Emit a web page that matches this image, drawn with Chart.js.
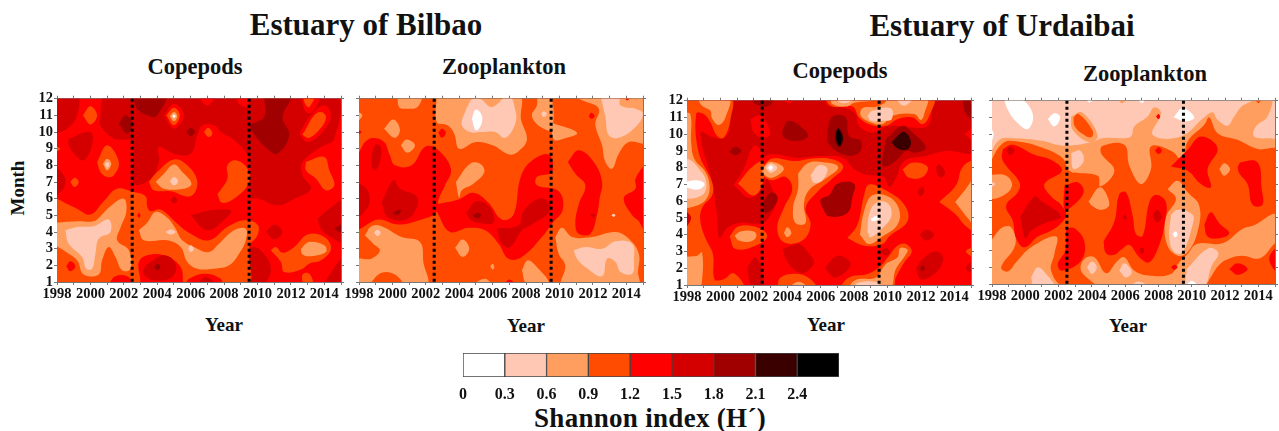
<!DOCTYPE html>
<html>
<head>
    <title>Shannon index</title>
    <script src="https://cdn.jsdelivr.net/npm/chart.js"></script>
    <style>
        body { margin: 0; background: #fff; width: 1279px; height: 431px; overflow: hidden; position: relative; font-family: "Liberation Serif", serif; font-weight: bold; color: #111; }
        canvas { position: absolute; }
        .t { position: absolute; white-space: nowrap; transform: translate(-50%, -50%); }
        .main { font-size: 31px; }
        .sub { font-size: 22.5px; }
        .ax { font-size: 19px; }
    </style>
</head>
<body>
    <div class="t main" style="left:366px;top:25px">Estuary of Bilbao</div>
    <div class="t main" style="left:1002px;top:26px">Estuary of Urdaibai</div>
    <div class="t sub" style="left:195px;top:67px">Copepods</div>
    <div class="t sub" style="left:504px;top:67px">Zooplankton</div>
    <div class="t sub" style="left:840px;top:71px">Copepods</div>
    <div class="t sub" style="left:1145px;top:74px">Zooplankton</div>
    <div class="t ax" style="left:18px;top:188px;transform:translate(-50%,-50%) rotate(-90deg)">Month</div>
    <div class="t ax" style="left:224px;top:325px">Year</div>
    <div class="t ax" style="left:526px;top:326px">Year</div>
    <div class="t ax" style="left:826px;top:325px">Year</div>
    <div class="t ax" style="left:1128px;top:326px">Year</div>
    <div class="t" style="left:650px;top:418px;font-size:27px;letter-spacing:0.3px">Shannon index (H´)</div>

    <canvas id="c1"></canvas>
    <canvas id="c2"></canvas>
    <canvas id="c3"></canvas>
    <canvas id="c4"></canvas>
    <canvas id="legendBar"></canvas>

    <script>
        const levelColors = ['#ffffff', '#ffc8b4', '#ff9e5e', '#ff4c00', '#ff0000', '#d40000', '#a00000', '#3a0000', '#000000'];
        const legendTicks = ['0', '0.3', '0.6', '0.9', '1.2', '1.5', '1.8', '2.1', '2.4', ''];
        const yearLabels = [1998, 2000, 2002, 2004, 2006, 2008, 2010, 2012, 2014];
        const periodBreaks = [2002.5, 2009.5];

        // contour rows: level index, then year,month pairs
        const bilbaoCopepods = [
            [4, 1980,30, 2030,30, 2030,-20, 1980,-20],
            [5, 1997.8,12.2, 1999.2,12.2, 1999.2,11, 1998.6,10.2, 1997.8,10],
            [5, 1998.7,9.6, 2000,10, 2000.1,9.2, 1999.6,8.3, 1999.1,8.6, 1998.7,9.2],
            [5, 2000.7,12.2, 2014.6,12.2, 2014.6,9.6, 2013.8,9.1, 2012.7,8.2, 2012.7,7.4, 2013.2,6.6, 2012.2,6, 2011.2,5.6, 2010.1,6, 2009.6,6.1, 2009.5,8.4, 2008.6,9.5, 2007.8,10, 2007.4,10.4, 2006.7,10.4, 2006.4,9.8, 2006,8.7, 2005,8.7, 2004.1,9.1, 2004.1,8.2, 2003.6,7.2, 2002.6,6.9, 2002.5,9.4, 2001.4,9.6, 2000.6,10.4, 2000.6,11],
            [4, 2004.4,11, 2005,11.7, 2005.6,11, 2005,10.2],
            [4, 2006.4,12.2, 2007.4,12.2, 2007,11.6],
            [4, 2008.7,12.2, 2009.4,12.2, 2009.4,11.5, 2008.9,11.7],
            [4, 2012.6,12.2, 2013.7,12.2, 2013.3,11.2, 2012.9,11.2],
            [3, 2012.7,12.2, 2013.4,12.2, 2013.1,11.5, 2012.9,11.6],
            [4, 2012.5,9.9, 2013.2,11, 2014,11.6, 2014.4,11, 2013.9,10, 2013,9.4],
            [6, 2002.6,12.2, 2004.5,12.2, 2004,11, 2003.7,10.9, 2002.8,11.4],
            [6, 2001.7,10.5, 2002.1,11, 2002.5,10.5, 2002.2,9.9],
            [6, 2005.75,10, 2006,10.25, 2006.25,10, 2006,9.75],
            [6, 2010.4,12.2, 2012,12.2, 2011.5,10.9, 2011.9,9.8, 2011.2,8.7, 2010.6,9, 2009.7,10, 2009.6,10.4, 2010.4,10.9],
            [5, 1997.8,8.1, 1998.4,7.4, 1998.5,7, 1998.3,6.5, 1997.8,6.2],
            [5, 2006,5, 2007.2,5.3, 2008.4,5.3, 2008.2,4.9, 2007,4.1],
            [5, 2010.5,4, 2011,4.45, 2011.5,4, 2011,3.55],
            [5, 2009.6,3.1, 2010.1,3, 2010.8,1.9, 2010.4,0.9, 2009.6,0.9],
            [5, 2004.8,5.9, 2005,6.15, 2005.2,5.9, 2005,5.7],
            [5, 2013.6,4.8, 2014.3,5.4, 2015.2,5.9, 2015.2,3.4, 2014.4,3.7, 2013.8,4.2],
            [5, 2015.2,2.7, 2014.5,1.7, 2014.1,0.9, 2015.2,0.9],
            [6, 2014.6,4.2, 2015.2,4.5, 2015.2,3.9],
            [3, 1997.8,6.1, 1999.2,5.4, 2000,5.05, 2000.8,5.85, 2001.6,6.6, 2002.6,6.4, 2003.3,6.15, 2003.4,5.55, 2003.6,5.25, 2004.2,5.35, 2005.2,4.5, 2006,3.9, 2007.1,3.5, 2008.2,4.3, 2009.2,4.7, 2010,4.45, 2010,3.8, 2009.5,3.1, 2009.5,0.8, 2008,0.8, 2007.8,1.2, 2006.9,1.5, 2005.9,1.2, 2005.6,0.8, 2005.4,1.9, 2004.4,2.6, 2003.4,2.6, 2002.9,2.2, 2002.8,0.8, 1997.8,0.8],
            [5, 2003.3,2, 2004.4,2.6, 2005.1,2.1, 2004.9,1.3, 2003.8,1.1, 2003.2,1.5],
            [6, 2003.8,1.9, 2004,2.1, 2004.2,1.9, 2004,1.7],
            [5, 2006.4,0.9, 2006.9,1.3, 2007.4,0.9],
            [4, 1998.55,1.95, 1998.8,2.25, 1999.1,1.95, 1998.8,1.65],
            [4, 2001.1,0.9, 2001.5,1.35, 2002.2,1.35, 2002.5,0.9],
            [4, 2002.8,5, 2002.9,5.15, 2003,5, 2002.9,4.85],
            [2, 1997.8,4.55, 1999.2,4.65, 2000.2,4.65, 2000.6,4.95, 2001.2,5.55, 2002,6, 2002.15,5.25, 2001.8,4.25, 2001.6,3.5, 2002.3,2.9, 2002.4,1.8, 2001.9,1.7, 2001.5,2.5, 2001.1,3.1, 2000.7,2.3, 2000.5,1.45, 1999.6,1.45, 1999.2,2.3, 1998.4,2.9, 1997.8,3.4],
            [1, 1998.5,4.1, 1999.2,4.3, 2000.2,4.35, 2001.1,4.75, 2001.2,4, 2000.5,3.6, 2000.3,2.7, 2000.1,1.8, 1999.75,1.8, 1999.5,2.5, 1998.7,3.3],
            [2, 2002.9,4.1, 2003.4,4.55, 2003.9,5.2, 2004.6,4.85, 2005.1,4.2, 2005.5,3.5, 2006.4,3, 2007.1,2.8, 2007.7,3.3, 2008.6,4.1, 2009.3,4.2, 2009.3,3.5, 2008.9,2.7, 2008.3,2, 2007.4,1.8, 2006.4,1.8, 2005.8,2.2, 2005.4,3.1, 2004.6,3.5, 2003.2,3.5],
            [1, 2004.5,4, 2004.8,4.15, 2005.1,4, 2004.8,3.85],
            [1, 2005.85,3, 2006,3.2, 2006.2,3, 2006,2.8],
            [3, 1999.55,11, 2000,11.55, 2000.4,11, 2000,10.45],
            [3, 1997.8,9.2, 1998.2,9, 1997.8,8.8],
            [3, 1998.8,7, 1999.05,7.25, 1999.3,7, 1999.05,6.7],
            [3, 2000.4,8.2, 2001,9.2, 2001.7,8.2, 2001.4,7.4, 2001,7.3, 2000.6,7.6],
            [2, 2000.75,8.1, 2001,8.4, 2001.25,8.1, 2001,7.7],
            [1, 2000.85,8.05, 2001,8.2, 2001.15,8.05, 2001,7.85],
            [3, 2004.55,11, 2005,11.45, 2005.35,11, 2005,10.4],
            [2, 2004.75,10.95, 2005,11.2, 2005.2,10.95, 2005,10.65],
            [0, 2004.9,10.95, 2005,11.05, 2005.1,10.95, 2005,10.85],
            [3, 2006.8,10, 2007.05,10.25, 2007.3,9.9, 2007.05,9.7],
            [3, 2003.5,7, 2004,7.6, 2005,8.35, 2005.8,8, 2006.4,7, 2006,6.15, 2004.8,6.45, 2003.8,6.5],
            [2, 2003.9,7, 2004.4,7.5, 2005,8.05, 2005.5,7.6, 2006.05,6.9, 2005.6,6.6, 2004.4,6.6],
            [1, 2004.75,7.05, 2005,7.3, 2005.25,7.05, 2005,6.8],
            [3, 2007.6,6.25, 2008.2,7.2, 2008.2,8, 2008.7,8.3, 2009.4,7.8, 2009.5,7, 2008.8,6.15, 2007.9,5.75],
            [3, 2012.8,10, 2013.4,11, 2013.8,11.2, 2014.1,10.9, 2013.8,10.25, 2013.1,9.65, 2012.7,9.85],
            [3, 2012.9,8.2, 2014,8.5, 2014.3,7.7, 2014.6,6.8, 2014.1,6.5, 2013.5,7.2, 2012.9,7.7],
            [3, 2010.8,2.9, 2011.1,3.1, 2011.5,2.75, 2012.2,3.1, 2013,3.85, 2014,3.7, 2014.4,3, 2013.8,2.3, 2013.1,2.1, 2012.6,1.75, 2011.6,1.6, 2011.4,2.2],
            [2, 2012.6,3, 2013.1,3.4, 2014,3.2, 2014.1,2.8, 2013.2,2.55, 2012.7,2.65],
            [3, 2012.7,0.9, 2012.7,1.45, 2013.1,1.5, 2013.3,0.9]
        ];

        const bilbaoZooplankton = [
            [3, 1980,30, 2030,30, 2030,-20, 1980,-20],
            [2, 2000.3,12.2, 2001.7,12.2, 2001.5,11.5, 2000.8,11.4, 2000.4,11.5],
            [2, 1997.8,11.3, 1998.2,11, 1997.8,10.6],
            [2, 1999.5,10.2, 2000.05,10.75, 2000.45,10.15, 2000.15,9.65],
            [2, 2000.5,9.2, 2000.85,9.55, 2001.35,9.2, 2000.9,8.75],
            [2, 2002.65,12.2, 2007.55,12.2, 2007.7,10.75, 2008.05,9.55, 2007.55,8.85, 2007,8.65, 2006,9.2, 2005,9.4, 2004,9, 2003.7,9.9, 2003.3,10.4, 2002.65,10.6],
            [1, 2004.45,11.45, 2004.75,11.95, 2005.25,12, 2005.95,11.5, 2006.95,12.2, 2007.35,11.35, 2007.35,10.5, 2006.75,9.65, 2006.15,10, 2005.35,10, 2004.65,10, 2004.15,10.45],
            [0, 2004.75,10.8, 2005,11.35, 2005.35,11, 2005.3,10.4, 2005,10.1],
            [2, 2008.65,12.2, 2009.45,12.2, 2009.55,10.15, 2008.95,10.25, 2008.35,10.95, 2008.65,11.6],
            [1, 2008.9,11.1, 2009.05,11.25, 2009.25,11.1, 2009.05,10.9],
            [2, 2009.55,10.55, 2011.05,9.95, 2010.25,9.6, 2009.65,9.55],
            [2, 2010.75,12.2, 2015.2,12.2, 2015.2,9.4, 2014.15,9.4, 2013.55,8.7, 2013.15,7.8, 2012.75,8.2, 2012.55,9.2, 2012.15,10.45, 2012.35,11.4, 2011.35,11.9],
            [1, 2012.45,12.2, 2013.55,12.2, 2013.65,11.6, 2014.55,11.4, 2015,11.1, 2014.55,10.3, 2013.55,9.65, 2012.95,9.8, 2012.75,10.9],
            [2, 2013.6,12.2, 2014.9,12.2, 2014.6,11.65, 2014.1,11.45, 2013.7,11.65],
            [4, 2013.85,12.2, 2014.25,12.2, 2014.05,11.9],
            [2, 2003.8,7, 2004.65,8.1, 2005.25,8.1, 2005.5,7.6, 2004.85,6.9, 2004.15,6.5, 2004,6.05],
            [2, 1998.35,3.8, 1998.75,4.35, 1999.35,4.35, 2000.55,3.7, 2001.65,3.4, 2001.85,2.2, 2002,0.8, 1997.8,0.8, 1997.8,2.3, 1998.75,2.4, 1999.25,2.9, 1998.85,3.3],
            [3, 1998.65,0.9, 1999.35,1.55, 2000.15,1.45, 2000.55,0.9],
            [1, 1998.9,3.95, 1999.1,4.15, 1999.3,3.95, 1999.1,3.75],
            [2, 2003.75,3.05, 2004.2,3.55, 2004.6,3, 2004.2,2.5],
            [2, 2005.85,1.95, 2006,2.1, 2006.1,1.9, 2006,1.75],
            [2, 2004.85,0.9, 2005.55,1.2, 2005.85,0.9],
            [2, 2007.75,1.7, 2008.1,2.3, 2008.55,2, 2009.35,0.9, 2008.05,0.9],
            [2, 2009.75,3.7, 2010.15,4.25, 2010.75,3.7, 2011.95,3.7, 2013.35,4, 2014.15,3.6, 2014.75,2.7, 2014.7,1.6, 2014.7,0.8, 2010.2,0.8, 2010.35,2, 2009.95,2.7],
            [1, 2010.85,2.9, 2011.55,3.1, 2012.55,3, 2013.35,3.45, 2014.35,3.3, 2014.45,2.3, 2014.35,1.5, 2013.65,1.6, 2013.35,2.2, 2012.85,2.4, 2012.55,1.35, 2011.55,1.9, 2011.05,2.4],
            [1, 2013.1,5, 2013.25,5.1, 2013.35,5, 2013.25,4.9],
            [4, 1997.8,8.4, 1998.55,9.55, 1999.45,9.45, 1999.85,8.6, 2000.15,8, 2001.15,8, 2001.95,9.1, 2002.65,9, 2003.5,7.8, 2003.15,6.8, 2002.75,5.9, 2002.65,5.2, 2001.75,4.75, 2000.35,4.45, 1999.15,4.75, 1997.8,4.25],
            [4, 2002.55,5.65, 2003.95,5.95, 2004.85,6.35, 2005.75,5.75, 2006.55,4.75, 2007.25,5.05, 2007.65,7.2, 2008.25,8.2, 2009.35,8.65, 2009.55,7.6, 2008.65,7.3, 2008.65,6.8, 2009.95,6.45, 2010.2,5.35, 2009.55,4.5, 2008.95,3.7, 2007.75,2.5, 2006.95,2.4, 2006.35,3.3, 2005.55,4.1, 2004.55,4.25, 2003.45,4, 2002.75,5.05],
            [4, 2010.5,8.2, 2011.15,8.9, 2012.05,8.2, 2012.55,7, 2012.4,6, 2012.25,5.05, 2011.85,3.9, 2011.15,3.9, 2010.95,4.5, 2011.15,5.65, 2011.55,6.8, 2010.95,7.5],
            [4, 2015.2,8.2, 2014.55,7.2, 2014.55,6.6, 2013.85,6.05, 2014.35,5, 2014.75,4.65, 2015.2,3.9],
            [4, 2002.75,9.95, 2002.95,10.2, 2003.2,9.95, 2002.95,9.65],
            [4, 2011.75,10.95, 2011.9,11.15, 2012.1,10.95, 2011.9,10.8],
            [4, 1997.8,10.2, 1998.15,10, 1997.8,9.8],
            [4, 2006.7,0.9, 2007,1.15, 2007.3,0.9],
            [5, 1998.75,8.7, 1999,9.25, 1999.3,9.1, 1999.25,8.2, 1998.95,7.7, 1998.75,8],
            [5, 1997.8,7, 1998.45,6.6, 1998.65,5.85, 1998.35,5.25, 1997.8,4.9],
            [5, 1999.35,5.75, 2000.05,7.1, 2000.45,6.6, 2001.45,6.15, 2001.45,5.45, 2000.85,4.75, 1999.75,4.85],
            [6, 2000,5.15, 2000.45,5.35, 2000.5,5.2, 2000.25,5],
            [5, 2004.4,5.15, 2005.05,5.85, 2005.85,5.45, 2006.05,4.55, 2005.15,4.55, 2004.65,4.75],
            [6, 2004.8,5, 2005.1,5.15, 2005.3,5, 2005.1,4.8],
            [5, 2006.25,4.2, 2007.55,4.4, 2007.85,5.25, 2008.75,6, 2009.4,5.75, 2009.35,5.15, 2008.35,4.45, 2007.75,4.1, 2007.05,3.1, 2006.55,3.3],
            [5, 2011.85,5, 2012,5.1, 2012.15,5, 2012,4.85]
        ];

        const urdaibaiCopepods = [
            [4, 1980,30, 2030,30, 2030,-20, 1980,-20],
            [5, 2000.2,12.15, 2006.2,12.15, 2006.4,11.75, 2007.5,11.55, 2008.1,11.2, 2008.3,10.5, 2009.1,10.1, 2010.1,10.5, 2011.3,10.4, 2012.4,10.5, 2012.7,11.65, 2012.7,12.15, 2015.2,12.15, 2015.2,9, 2013.5,9, 2012.3,8.7, 2011,8.4, 2010.5,7.35, 2010.1,6.85, 2009.8,7.45, 2008.9,7.55, 2008.1,7.85, 2007.3,8.6, 2006.1,8.7, 2004.5,8.6, 2003,8.8, 2002.5,8.35, 2003.1,6.75, 2003.4,6.2, 2003,5.2, 2002.5,4.7, 2001.1,4.7, 2000.4,4.4, 1999.95,3.8, 1999.8,5.2, 1999.5,7.15, 1998.8,10.1, 1999.6,9.8, 2000.3,9.8, 2000.6,10.7, 2000.4,11.45],
            [4, 2000.8,6.95, 2001.4,7.95, 2002,9.3, 2002.5,8.9, 2002.7,7.2, 2001.8,6.2],
            [4, 2001.8,10.9, 2002.4,11.1, 2003,10, 2002.5,9.8, 2002,10.1],
            [4, 2003.7,12.15, 2004.4,12.15, 2004.1,11.85],
            [4, 2014.6,10, 2015.2,10.4, 2015.2,9.6],
            [6, 2001.8,12.15, 2003.2,12.15, 2002.8,11.65, 2002.1,11.8],
            [6, 2000.5,8.95, 2000.9,9.25, 2001.25,9, 2000.9,8.75],
            [6, 2003.7,10.2, 2004.1,10.8, 2005.1,10.2, 2005.2,9.8, 2004.5,9.6, 2003.8,9.8],
            [6, 2006.4,10.2, 2006.7,11.05, 2007.5,11, 2007.7,9.9, 2008.4,9.6, 2008.3,8.9, 2007.5,8.75, 2006.5,9.4],
            [7, 2006.9,10.1, 2007.05,10.4, 2007.35,9.8, 2007.15,9.25, 2006.9,9.6],
            [8, 2006.95,10, 2007.05,10.3, 2007.25,9.75, 2007.12,9.35, 2006.97,9.65],
            [6, 2009.9,9.7, 2010.9,10.5, 2011.5,10.1, 2012.3,9.2, 2011.7,8.9, 2011.1,9, 2010.7,8.6, 2010.1,8.15, 2009.7,8.15],
            [7, 2010.25,9.5, 2010.6,9.9, 2011,10.15, 2011.4,9.6, 2011.2,9.1, 2010.6,9.15],
            [6, 2006.1,5.6, 2006,6.1, 2006.5,6.35, 2007,7.05, 2008,7.05, 2007.9,6.25, 2007.6,5.3, 2006.5,5.1],
            [6, 2002.5,5.8, 2003,6.5, 2003.4,6.3, 2003.3,5.8, 2002.7,5.3],
            [6, 2014.5,12.15, 2015.2,12.15, 2015.2,10.8, 2014.8,11.1, 2014.55,11.6],
            [5, 2011.75,6.55, 2012.1,6.9, 2012.2,6.6, 2012,6.3],
            [5, 2012.9,8, 2013.1,8.2, 2013.45,7.7, 2013.2,7.4, 2013,7.6],
            [5, 2011.9,4, 2012.35,4.3, 2012.8,4, 2012.35,3.65],
            [5, 2011.7,1.95, 2012.1,2.55, 2012.9,3, 2013.35,2.55, 2012.8,1.65, 2012,1.35],
            [6, 2011.95,2, 2012.1,2.15, 2012.25,2, 2012.1,1.85],
            [5, 2003.7,3.15, 2004.7,3.45, 2005.2,3, 2005.6,2.35, 2004.9,1.7, 2004.1,2.25],
            [5, 2006.25,2, 2007,2.75, 2007.8,2.25, 2006.9,1.45],
            [5, 2001.6,2.05, 2002.1,2.65, 2002.5,1.75, 2002.5,0.85, 2001.9,0.85],
            [5, 2015.2,2.55, 2014.7,2, 2015.2,1.7],
            [5, 2009.55,3, 2009.9,3.2, 2010.15,3, 2009.9,2.75],
            [3, 1997.8,12.2, 2000.6,12.2, 2000.6,10.9, 2000.2,9.8, 1999.8,9.9, 1999.4,10.7, 1999,11.2, 1998.55,11.2, 1998.7,8.9, 1999.5,7.15, 1999.5,6.35, 1998.9,5.6, 1998.8,4.8, 1999.1,3.8, 1999.55,2.85, 1999.65,1.35, 2000.2,1.35, 2000.8,1.7, 2001.35,0.8, 1997.8,0.8],
            [5, 1997.8,5.55, 1998.25,5, 1997.8,4.4],
            [2, 1998.6,12.2, 2000.5,12.2, 2000.3,11, 1999.9,10.55, 1999.5,10.95, 1999.4,11.4, 1998.9,11.7],
            [2, 1997.8,11.3, 1998.2,11.2, 1998.25,9.5, 1998.45,8.5, 1999.1,7.75, 1999.35,6.95, 1999.2,6.2, 1998.6,5.75, 1997.8,5.75],
            [1, 1997.8,8.3, 1998.1,8.5, 1998.7,7.95, 1999.15,7.15, 1998.9,6.35, 1997.8,6.3],
            [0, 1997.8,7.1, 1998.5,7.25, 1999.05,7.05, 1998.7,6.7, 1997.8,6.9],
            [2, 1997.8,2.7, 1998.6,2.75, 1998.9,2.95, 1998.9,1.25, 1998.7,0.8, 1997.8,0.8],
            [3, 2000.55,3.9, 2001.1,4.5, 2002.3,4.4, 2002.8,3.9, 2002.1,3.35, 2000.9,3.15],
            [2, 2000.85,3.95, 2001.2,4.2, 2002,4.2, 2002.15,3.9, 2001.8,3.6, 2001.1,3.65],
            [3, 2006.2,12.2, 2012.7,12.2, 2012.5,11.1, 2012.1,10.6, 2011.5,11, 2010.6,10.9, 2009.9,10.5, 2008.9,10.6, 2008.3,11, 2007.9,11.65, 2006.7,11.65],
            [2, 2006.6,12.2, 2012.3,12.2, 2012.2,11.2, 2012,10.85, 2011.6,11.2, 2010.3,11.1, 2009.7,10.6, 2008.9,10.75, 2008.4,11.1, 2008.5,11.55, 2009.4,11.65, 2009.9,12, 2008.1,11.9, 2007.5,11.65, 2006.7,11.8],
            [1, 2008.8,11.1, 2009.1,11.4, 2010.2,11.55, 2010.25,10.9, 2009.7,10.8, 2009,10.8],
            [1, 2010.4,12.2, 2011.5,12.2, 2011,11.7],
            [1, 2006.7,12.2, 2008.1,12.2, 2007.4,11.85],
            [3, 2002.55,8.05, 2003.1,8.55, 2004.5,8.4, 2005.5,8.55, 2006.7,8.5, 2007.35,8.05, 2006.7,7.35, 2005.8,6.55, 2005.1,5.6, 2005.4,4.6, 2004.9,3.65, 2003.8,3.55, 2003.4,4.4, 2003.8,5.6, 2004.3,6.75, 2003.9,7.45, 2003.1,7.25, 2002.55,7.55],
            [3, 2001.05,7.05, 2001.9,8.05, 2002.55,8.35, 2002.55,7.15, 2002,6.35],
            [2, 2004.65,7.65, 2005.2,8.25, 2005.9,8.35, 2007.05,8.05, 2006.3,7.35, 2005.3,6.65, 2005,5.8, 2005.1,4.7, 2004.5,4.7, 2004.35,5.6, 2004.65,6.75],
            [1, 2005.4,7.55, 2005.9,8.15, 2006.4,7.95, 2006.1,7.25, 2005.6,7.1],
            [2, 2003.8,4.1, 2004,4.45, 2004.25,4.1, 2004,3.85],
            [2, 2002.55,8, 2003,8.35, 2003.8,7.95, 2003.1,7.4, 2002.55,7.65],
            [1, 2002.7,8, 2003,8.25, 2003.4,8, 2003,7.7],
            [0, 2002.85,8, 2003,8.15, 2003.15,8, 2003,7.85],
            [3, 2007.6,3.8, 2008.2,4.6, 2008.6,6.35, 2008.9,7, 2009.9,6.65, 2011,5.8, 2011.2,4.8, 2010.1,3.9, 2009.7,3.45, 2008.6,3.35],
            [2, 2008.35,4, 2008.6,5.4, 2009.1,6.35, 2010.1,6.25, 2010.7,5.5, 2010.6,4.6, 2009.7,3.9, 2008.9,3.45],
            [1, 2008.8,4.2, 2008.9,5.2, 2009.3,5.9, 2010,5.9, 2010.25,5.2, 2009.9,4.6, 2009,3.85],
            [0, 2009,4.95, 2009.4,5.15, 2009.55,5, 2009.1,4.8],
            [3, 2010.9,7.9, 2011.5,8.3, 2012.4,8.05, 2012.1,7.45, 2011.3,7.4],
            [3, 2013.1,5.95, 2014.1,6.95, 2014.5,8.05, 2015.2,8.35, 2015.2,4.3, 2014.6,4.6, 2014.1,5.2],
            [2, 2014.05,5.95, 2014.7,6.75, 2015.2,7.35, 2015.2,4.6, 2014.8,5],
            [3, 2015.2,3.3, 2014.7,3, 2015.2,2.7],
            [3, 2003.4,0.8, 2003.6,1.45, 2004.7,1.65, 2005.5,1.25, 2005.7,0.8],
            [2, 2004,0.8, 2004.7,1.2, 2005.2,0.8],
            [3, 2007.1,0.8, 2007.7,1.45, 2008.8,1.65, 2009.6,2.15, 2010.1,2.75, 2010.6,3.35, 2011.1,3.45, 2011.45,3, 2011,2.35, 2010.5,1.45, 2010.3,0.8],
            [2, 2007.6,0.8, 2008.1,1.3, 2009.3,1.45, 2009.9,2.25, 2010.6,2.65, 2010.75,3.2, 2011.2,3.1, 2011.05,2.75, 2010.5,1.95, 2010.1,0.8],
            [1, 2007.9,0.8, 2008.3,1.15, 2009.4,1.15, 2009.4,0.8]
        ];

        const urdaibaiZooplankton = [
            [1, 1980,30, 2030,30, 2030,-20, 1980,-20],
            [2, 1997.8,8.6, 1998.45,9.65, 1999.35,9.75, 2000.95,9.6, 2002.35,9.3, 2003.95,9.5, 2004.65,9.75, 2005.75,9.75, 2006.35,9.85, 2006.55,10.45, 2007.35,11.05, 2007.75,11.6, 2008.15,11.25, 2007.65,9.95, 2009.35,9.85, 2010.75,11, 2011.25,11.3, 2011.55,10.85, 2012.15,10.5, 2012.55,11.05, 2013.15,11.75, 2014.75,12.2, 2014.55,11.05, 2013.85,10.45, 2013.75,9.85, 2015.2,9.45, 2015.2,0.8, 1997.8,0.8],
            [0, 1998.7,12.2, 1999.65,12.2, 2000.45,11.2, 2000.15,10.3, 1999.45,10.75, 1998.95,11.45],
            [0, 2001.35,10.9, 2001.75,11.25, 2002.1,11, 2001.75,10.45],
            [0, 2008.9,11, 2009.45,11.55, 2010.15,11, 2009.65,10.75],
            [0, 2003.6,12.2, 2004.1,12.2, 2003.85,11.9],
            [0, 2006.75,12.2, 2007.2,12.2, 2007,11.85],
            [0, 1997.8,10.5, 1998.1,10, 1997.8,9.3],
            [2, 2005.5,12.2, 2006.1,12.2, 2005.8,11.85],
            [3, 2013.75,12.2, 2014.2,12.2, 2014,11.85],
            [3, 2011.9,12.2, 2012.1,12.2, 2012,12.05],
            [2, 2002.75,11.05, 2003.4,11.3, 2004.35,9.9, 2003.85,9.5, 2002.85,10.25],
            [3, 2002.9,11, 2003.2,11.2, 2004.05,10.2, 2003.95,9.8, 2003.45,10, 2002.95,10.5],
            [3, 1997.8,8.15, 1998.65,9.45, 1999.55,9.55, 2000.95,9.2, 2002.25,8.55, 2002.65,7.8, 2004.35,7.5, 2004.5,6.85, 2005.35,7.8, 2004.55,8.85, 2004.65,9.3, 2005.95,9.35, 2006.25,8.1, 2006.95,7, 2007.55,7.9, 2007.55,9.25, 2008.75,9, 2009.45,8.45, 2009.75,9.55, 2010.75,10.55, 2011.05,11, 2011.55,10.05, 2012.75,9.65, 2013.95,9.1, 2015.2,9, 2015.2,5.2, 2014.85,5.2, 2013.8,4.55, 2013.05,4.3, 2011.85,3.45, 2010.3,3.4, 2009.75,2.8, 2009.25,2.3, 2008.75,1.6, 2007.55,1.5, 2006.55,1.8, 2005.95,2.6, 2005.55,2.4, 2004.85,1.65, 2004.15,2.6, 2003.55,2.5, 2003.35,1.8, 2004.25,0.8, 2002.35,0.8, 2001.55,1.8, 2001.75,2.8, 2001.85,3.85, 2000.35,3.2, 1999.45,2.3, 1998.95,1.75, 1998.55,2, 1999.4,3.35, 1999.15,4.4, 1998.55,4.35, 1997.8,3.55],
            [2, 1997.8,7.55, 1998.85,7.5, 1999.2,6.9, 1998.65,6.3, 1997.8,6.2],
            [1, 1997.8,7.2, 1998.2,7, 1997.8,6.8],
            [2, 2002.6,9.05, 2003.35,9.15, 2003.65,8.4, 2002.95,7.7, 2002.65,7.85],
            [1, 2002.75,8.85, 2003.3,9, 2003.5,8.35, 2002.9,7.9],
            [2, 2003.8,5.95, 2004.5,6.8, 2005.05,5.8, 2004.6,5.45, 2004,5.7],
            [2, 2011.65,7.9, 2011.95,8.25, 2012.3,7.9, 2011.95,7.5],
            [2, 2008.55,6.7, 2009.15,7.2, 2009.75,6.5, 2010.45,5.7, 2010.35,4.15, 2009.75,2.9, 2009.15,2.7, 2008.5,3.4, 2008.45,5, 2009.05,6.1],
            [1, 2008.75,5.15, 2009.15,5.45, 2010.05,5.15, 2010.05,4.55, 2009.45,2.9, 2008.95,2.9, 2008.65,3.75],
            [0, 2008.85,4, 2009,4.15, 2009.15,4, 2009,3.8],
            [1, 2003.7,2, 2004,2.35, 2004.3,2, 2004,1.6],
            [1, 2005.65,1.8, 2005.95,2.25, 2006.4,1.7, 2006.05,1.4],
            [1, 2006.3,0.9, 2006.8,1.15, 2007.3,0.9],
            [1, 2000.35,1.4, 2000.75,2, 2001.25,1.6, 2001.75,0.8, 2000.55,0.8],
            [1, 2009.7,1.9, 2011,3.15, 2011.6,2.85, 2011.2,2.1, 2010.7,0.8, 2009.7,0.8],
            [0, 2009.65,0.9, 2010,1.2, 2010.3,0.9],
            [3, 2010.8,0.8, 2011.2,1.5, 2011.7,2.2, 2012.3,2.55, 2013.05,2.7, 2014.1,2.55, 2015,3.45, 2015.2,3.5, 2015.2,0.8],
            [4, 2012.25,1.9, 2012.75,2.25, 2013.35,1.9, 2012.75,1.55],
            [4, 2015.2,3.4, 2014.65,2.5, 2015.2,1.7],
            [4, 1998.65,9.1, 1999.25,9.35, 2000.55,8.75, 2001.65,8.4, 2002.2,7.8, 2001.15,7, 2001.6,6.2, 2002.1,5.8, 2002.45,5.15, 2002.05,4.55, 2001.45,4.15, 2000.75,3.85, 1999.95,3.2, 1999.45,3.75, 1999.25,4.8, 1998.85,5.7, 1999.55,6.5, 1999.65,7.1, 1998.85,8.1, 1998.6,8.55],
            [4, 2002.35,6.9, 2003.15,7.1, 2003.5,6.5, 2002.75,5.6, 2002.35,5.5],
            [4, 2002.45,4.35, 2002.95,4.35, 2003.55,3.55, 2003.35,2.4, 2002.2,1.8, 2001.95,2.2, 2002.4,3],
            [4, 2004.7,3.55, 2005.35,4.75, 2005.65,6.4, 2006.05,6.5, 2006.45,5.1, 2006.65,4, 2007.05,3.9, 2007.45,5.9, 2007.85,6.35, 2008.45,5.9, 2008.35,4.55, 2008.05,3.35, 2007.45,2.3, 2006.85,2.6, 2006.25,3.35, 2005.75,3.05, 2005.35,2.75, 2004.85,2.85],
            [5, 2005.8,5, 2006,5.15, 2006.1,5, 2006,4.85],
            [5, 2007.65,5.1, 2007.9,5.45, 2008.2,5.05, 2007.9,4.7],
            [5, 2006.85,3, 2007,3.2, 2007.15,3, 2007,2.8],
            [4, 2007.8,9, 2008,9.2, 2008.2,9, 2008,8.8],
            [4, 2007.85,11.05, 2008,11.2, 2008.1,11.05, 2008,10.9],
            [4, 2008.75,2, 2008.95,2.15, 2009.15,2, 2008.95,1.85],
            [5, 1998.85,9, 1999.1,9.25, 1999.35,9, 1999.1,8.75],
            [5, 1999.7,5.05, 2000.55,6.25, 2000.95,6, 2002.15,5.05, 2001.15,4.65, 2000.35,4.2, 2000,3.75],
            [4, 2008.75,8.05, 2009.75,9.05, 2010.55,9.85, 2011.55,9.15, 2010.95,7.9, 2011.15,6.8, 2010.55,7, 2009.75,7.8],
            [4, 2012.75,8, 2012.95,8.3, 2013.95,8.3, 2014.2,6.7, 2014.25,5.75, 2013.65,5.75, 2013.35,7, 2012.85,7.65],
            [4, 2010.75,4.55, 2011.15,5.3, 2011.65,4.65, 2012.25,4.05, 2011.65,3.75, 2010.95,3.85]
        ];

        const LABEL_FONT = { family: 'Liberation Serif', weight: 'bold', size: 14.5 };
        const AXIS_GREY = '#777';

        function contourDataset(row, i, total) {
            const pts = [];
            for (let k = 1; k < row.length; k += 2) pts.push({ x: row[k], y: row[k + 1] });
            pts.push(pts[0]);
            return {
                data: pts,
                showLine: true,
                fill: 'shape',
                backgroundColor: levelColors[row[0]],
                borderWidth: 0,
                borderColor: 'rgba(0,0,0,0)',
                pointRadius: 0,
                tension: 0.4,
                order: total - i + 5
            };
        }

        function breakDataset(year) {
            return {
                data: [{ x: year, y: 12 }, { x: year, y: 1 }],
                showLine: true,
                fill: false,
                borderColor: '#000',
                borderWidth: 3,
                borderDash: [3, 3],
                pointRadius: 0,
                clip: 4,
                order: 0
            };
        }

        function axisOpts(position, size, extra) {
            return Object.assign({
                type: 'linear',
                position: position,
                border: { color: AXIS_GREY },
                grid: { drawOnChartArea: false, color: AXIS_GREY, tickLength: 3 },
                afterFit: function (s) {
                    if (position === 'left' || position === 'right') s.width = size; else s.height = size;
                }
            }, extra);
        }

        function drawPanel(id, contours, left, top, width, height, showMonths) {
            const mL = 40, mT = 6, mR = 6, mB = 26;
            const cv = document.getElementById(id);
            cv.style.left = (left - mL) + 'px';
            cv.style.top = (top - mT) + 'px';
            cv.width = width + mL + mR;
            cv.height = height + mT + mB;
            const xRange = { min: 1998, max: 2015 };
            const yRange = { min: 1, max: 12 };
            const datasets = contours.map((r, i) => contourDataset(r, i, contours.length));
            periodBreaks.forEach(y => datasets.push(breakDataset(y)));
            new Chart(cv.getContext('2d'), {
                type: 'scatter',
                data: { datasets: datasets },
                options: {
                    responsive: false,
                    animation: false,
                    events: [],
                    layout: { padding: 0 },
                    plugins: { legend: { display: false }, tooltip: { enabled: false } },
                    scales: {
                        x: axisOpts('bottom', mB, Object.assign({}, xRange, {
                            ticks: {
                                stepSize: 1, autoSkip: false, maxRotation: 0, padding: 1,
                                color: '#111', font: LABEL_FONT,
                                callback: v => yearLabels.includes(v) ? String(v) : ''
                            }
                        })),
                        y: axisOpts('left', mL, Object.assign({}, yRange, {
                            ticks: {
                                stepSize: 1, autoSkip: false, padding: 1,
                                color: '#111', font: LABEL_FONT,
                                callback: v => showMonths ? String(v) : ''
                            }
                        })),
                        xTop: axisOpts('top', mT, Object.assign({}, xRange, {
                            ticks: { stepSize: 1, autoSkip: false, padding: 0, callback: () => '' }
                        })),
                        yRight: axisOpts('right', mR, Object.assign({}, yRange, {
                            ticks: { stepSize: 1, autoSkip: false, padding: 0, callback: () => '' }
                        }))
                    }
                }
            });
        }

        drawPanel('c1', bilbaoCopepods, 57, 95, 284, 187, true);
        drawPanel('c2', bilbaoZooplankton, 359, 95, 284, 187, false);
        drawPanel('c3', urdaibaiCopepods, 687, 97, 284, 188, true);
        drawPanel('c4', urdaibaiZooplankton, 992, 97, 283, 187, false);

        // colour key
        const keyCanvas = document.getElementById('legendBar');
        keyCanvas.style.left = '440px';
        keyCanvas.style.top = '350px';
        keyCanvas.width = 420;
        keyCanvas.height = 56;
        new Chart(keyCanvas.getContext('2d'), {
            type: 'bar',
            data: {
                labels: ['H'],
                datasets: levelColors.map(c => ({
                    data: [0.3],
                    backgroundColor: c,
                    borderColor: '#444',
                    borderWidth: 1,
                    borderSkipped: false,
                    barPercentage: 1,
                    categoryPercentage: 1
                }))
            },
            options: {
                indexAxis: 'y',
                responsive: false,
                animation: false,
                events: [],
                layout: { padding: { left: 23, right: 21, top: 3 } },
                plugins: { legend: { display: false }, tooltip: { enabled: false } },
                scales: {
                    x: {
                        stacked: true,
                        min: 0,
                        max: 2.7,
                        border: { display: false },
                        grid: { display: false },
                        ticks: {
                            stepSize: 0.3,
                            autoSkip: false,
                            maxRotation: 0,
                            padding: 0,
                            color: '#111',
                            font: { family: 'Liberation Serif', weight: 'bold', size: 16 },
                            callback: (v, i) => legendTicks[i]
                        },
                        afterFit: s => { s.height = 29; }
                    },
                    y: { stacked: true, display: false }
                }
            }
        });
    </script>
</body>
</html>
